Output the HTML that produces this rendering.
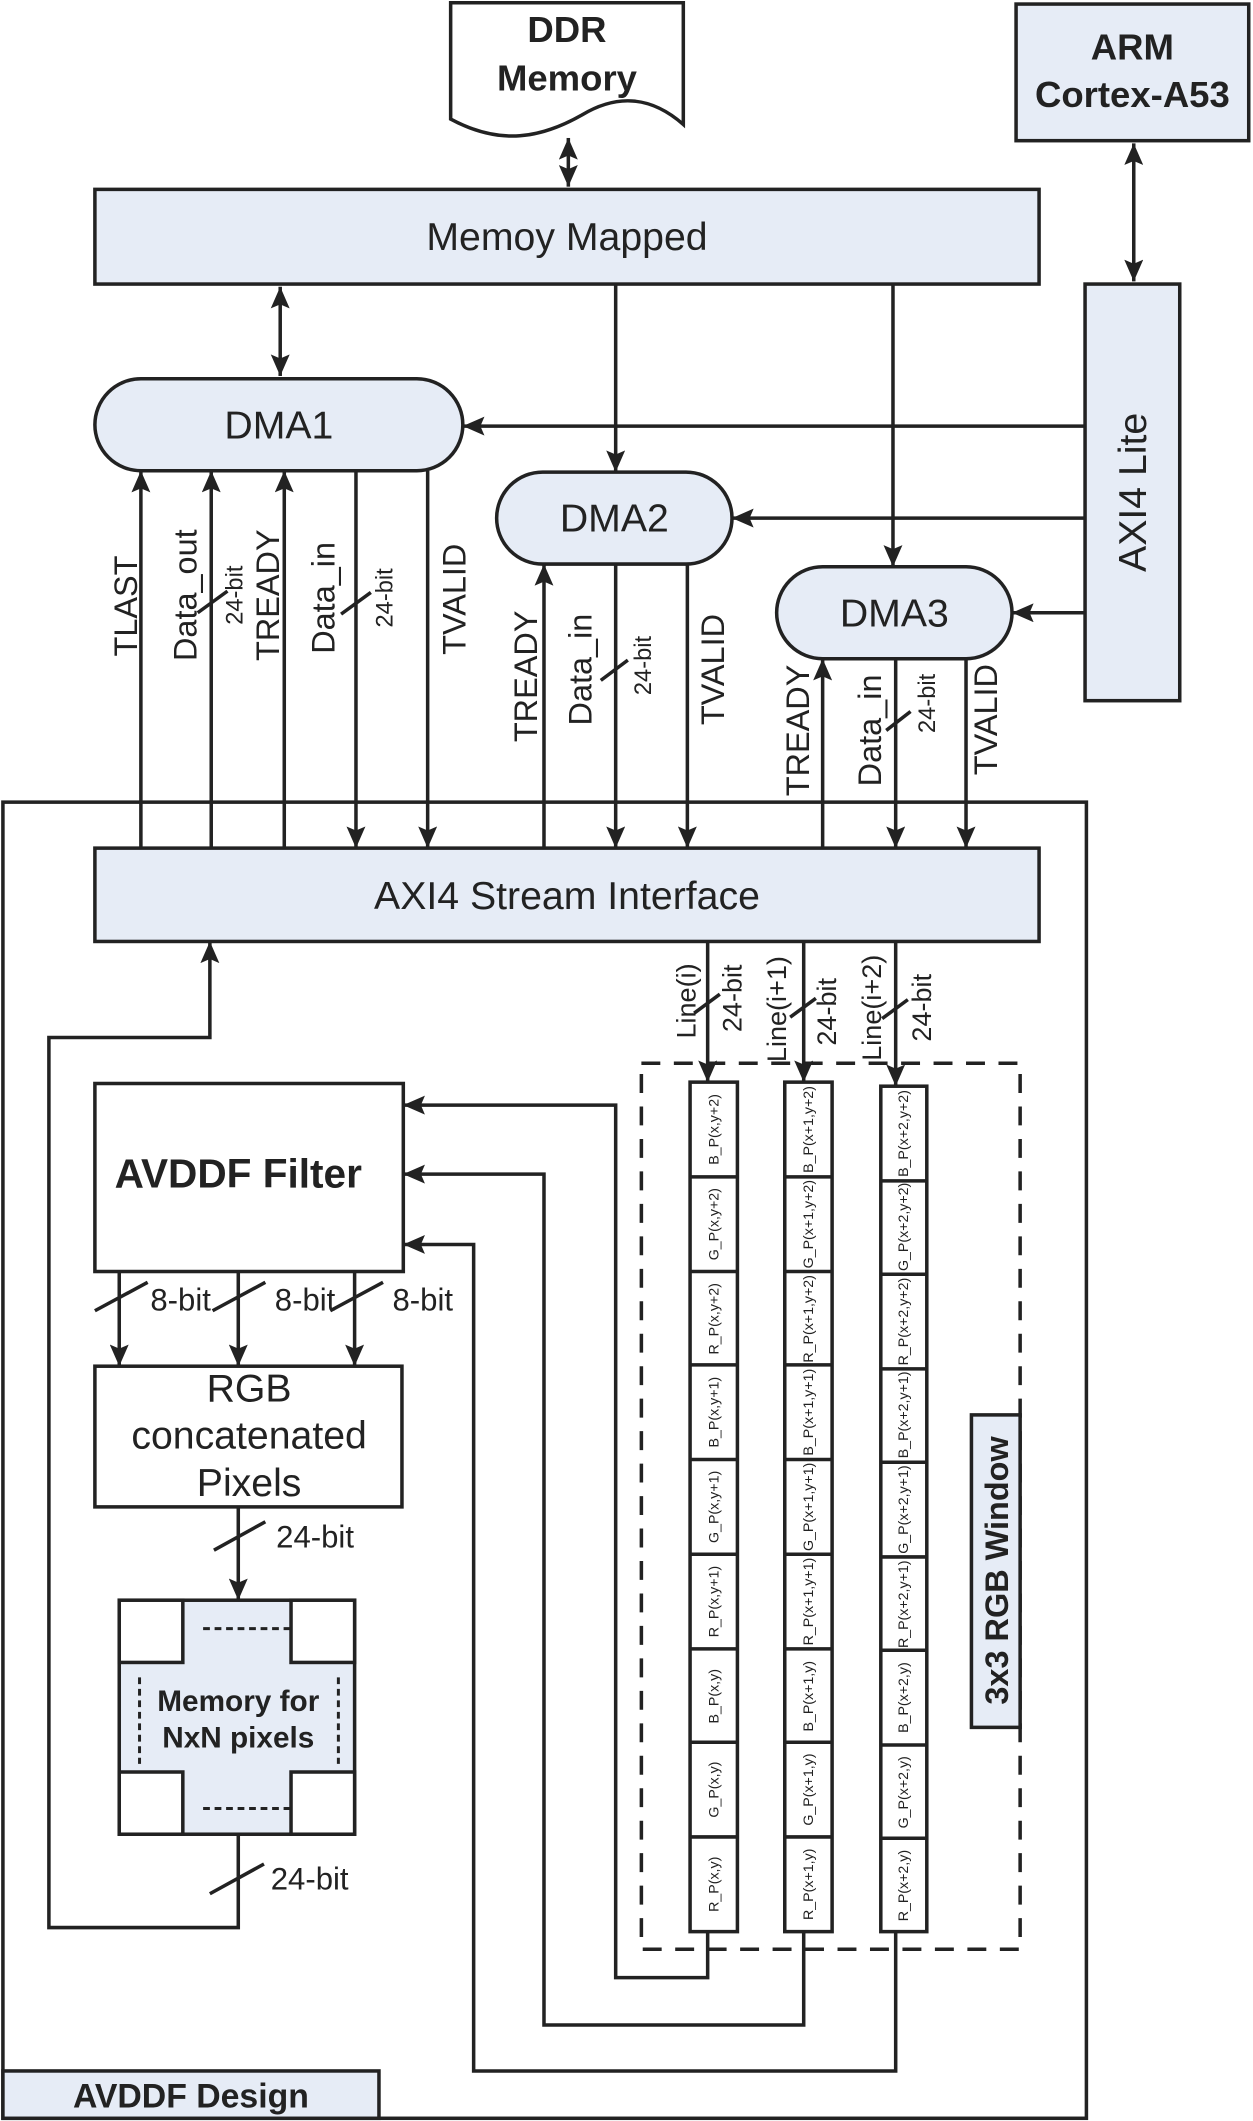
<!DOCTYPE html>
<html><head><meta charset="utf-8"><style>
html,body{margin:0;padding:0;background:#fff;}
svg{display:block;}
text{font-family:"Liberation Sans",Arial,sans-serif;fill:#222;}
</style></head><body>
<svg width="1253" height="2121" viewBox="0 0 926 1568" xmlns="http://www.w3.org/2000/svg">
<defs>
<marker id="m" viewBox="0 0 16 14" refX="16" refY="7" markerWidth="16" markerHeight="14" markerUnits="userSpaceOnUse" orient="auto-start-reverse">
<path d="M0,0 L16,7 L0,14 L3,7 Z" fill="#222"/>
</marker>
</defs>
<style>
.s{stroke:#222;stroke-width:2.6;fill:none;}
.f{stroke:#222;stroke-width:2.6;fill:#e6ecf6;}
.w{stroke:#222;stroke-width:2.6;fill:#fff;}
.ar{stroke:#222;stroke-width:2.6;fill:none;marker-end:url(#m);}
</style>

<!-- DDR memory -->
<path class="w" d="M333,2 L505,2 L505,92 C480,70 455,70 430,85 C400,102 370,108 333,88 Z"/>
<text x="419" y="31" font-size="27" font-weight="bold" text-anchor="middle">DDR</text>
<text x="419" y="67" font-size="27" font-weight="bold" text-anchor="middle">Memory</text>
<path class="s" d="M420,102 L420,138" marker-end="url(#m)" marker-start="url(#m)"/>

<!-- ARM -->
<rect class="f" x="751" y="3" width="172" height="101"/>
<text x="837" y="44" font-size="27" font-weight="bold" text-anchor="middle">ARM</text>
<text x="837" y="79" font-size="27" font-weight="bold" text-anchor="middle">Cortex-A53</text>
<path class="s" d="M838,106 L838,208" marker-end="url(#m)" marker-start="url(#m)"/>

<!-- Memory mapped -->
<rect class="f" x="70" y="140" width="698" height="70"/>
<text x="419" y="185" font-size="29" text-anchor="middle">Memoy Mapped</text>

<!-- AXI4 Lite -->
<rect class="f" x="802" y="210" width="70" height="308"/>
<text transform="translate(847,364) rotate(-90)" font-size="29" text-anchor="middle">AXI4 Lite</text>

<!-- DMA1 -->
<rect class="f" x="70" y="280" width="272" height="68" rx="34"/>
<text x="206" y="324" font-size="29" text-anchor="middle">DMA1</text>
<path class="s" d="M207,212 L207,278" marker-end="url(#m)" marker-start="url(#m)"/>
<!-- DMA2 -->
<rect class="f" x="367" y="349" width="174" height="68" rx="34"/>
<text x="454" y="393" font-size="29" text-anchor="middle">DMA2</text>
<path class="ar" d="M455,210 L455,349"/>
<!-- DMA3 -->
<rect class="f" x="574" y="419" width="174" height="68" rx="34"/>
<text x="661" y="463" font-size="29" text-anchor="middle">DMA3</text>
<path class="ar" d="M660,210 L660,419"/>

<path class="ar" d="M802,315 L342,315"/>
<path class="ar" d="M802,383 L541,383"/>
<path class="ar" d="M802,453 L748,453"/>

<!-- AVDDF Design outer -->
<rect class="s" x="2" y="593" width="801" height="973"/>
<rect class="f" x="2" y="1531" width="278" height="35"/>
<text x="141" y="1558" font-size="25" font-weight="bold" text-anchor="middle">AVDDF Design</text>

<!-- AXI4 stream -->
<rect class="f" x="70" y="627" width="698" height="69"/>
<text x="419" y="672" font-size="29" text-anchor="middle">AXI4 Stream Interface</text>

<!-- DMA1 signals -->
<path class="ar" d="M104,627 L104,348"/>
<path class="ar" d="M156,627 L156,348"/>
<path class="ar" d="M210,627 L210,348"/>
<path class="ar" d="M263,348 L263,627"/>
<path class="ar" d="M316,348 L316,627"/>
<!-- DMA2 signals -->
<path class="ar" d="M402,627 L402,417"/>
<path class="ar" d="M455,417 L455,627"/>
<path class="ar" d="M508,417 L508,627"/>
<!-- DMA3 signals -->
<path class="ar" d="M608,627 L608,487"/>
<path class="ar" d="M662,487 L662,627"/>
<path class="ar" d="M714,487 L714,627"/>

<g font-size="24">
<text transform="translate(101,448) rotate(-90)" text-anchor="middle">TLAST</text>
<text transform="translate(145,440) rotate(-90)" text-anchor="middle">Data_out</text>
<text transform="translate(206,440) rotate(-90)" text-anchor="middle">TREADY</text>
<text transform="translate(247,442) rotate(-90)" text-anchor="middle">Data_in</text>
<text transform="translate(344,443) rotate(-90)" text-anchor="middle">TVALID</text>
<text transform="translate(397,500) rotate(-90)" text-anchor="middle">TREADY</text>
<text transform="translate(437,495) rotate(-90)" text-anchor="middle">Data_in</text>
<text transform="translate(535,495) rotate(-90)" text-anchor="middle">TVALID</text>
<text transform="translate(598,540) rotate(-90)" text-anchor="middle">TREADY</text>
<text transform="translate(651,540) rotate(-90)" text-anchor="middle">Data_in</text>
<text transform="translate(737,532) rotate(-90)" text-anchor="middle">TVALID</text>
</g>
<g font-size="17.5">
<text transform="translate(179,440) rotate(-90)" text-anchor="middle">24-bit</text>
<text transform="translate(290,442) rotate(-90)" text-anchor="middle">24-bit</text>
<text transform="translate(481,492) rotate(-90)" text-anchor="middle">24-bit</text>
<text transform="translate(691,520) rotate(-90)" text-anchor="middle">24-bit</text>
</g>
<g class="s">
<path d="M146,453 L168,437"/>
<path d="M252,454 L274,438"/>
<path d="M444,503 L464,488"/>
<path d="M655,540 L673,526"/>
</g>

<!-- Lines down -->
<path class="ar" d="M523,696 L523,800"/>
<path class="ar" d="M594,696 L594,800"/>
<path class="ar" d="M662,696 L662,803"/>
<g font-size="20">
<text transform="translate(514,740) rotate(-90)" text-anchor="middle">Line(i)</text>
<text transform="translate(581,746) rotate(-90)" text-anchor="middle">Line(i+1)</text>
<text transform="translate(651,745) rotate(-90)" text-anchor="middle">Line(i+2)</text>
<text transform="translate(548,738) rotate(-90)" text-anchor="middle">24-bit</text>
<text transform="translate(618,748) rotate(-90)" text-anchor="middle">24-bit</text>
<text transform="translate(688,745) rotate(-90)" text-anchor="middle">24-bit</text>
</g>
<g class="s">
<path d="M513,749 L532,735"/>
<path d="M584,752 L603,738"/>
<path d="M652,753 L671,739"/>
</g>

<!-- dashed window -->
<rect x="474" y="786" width="280" height="655" fill="none" stroke="#222" stroke-width="2.6" stroke-dasharray="14,10"/>

<!-- columns -->
<g>
<rect class="w" x="510" y="800" width="35" height="628"/>
<rect class="w" x="580" y="800" width="35" height="628"/>
<rect class="w" x="651" y="803" width="34" height="625"/>
<g class="s">
<path d="M510,870 H545 M510,940 H545 M510,1009 H545 M510,1079 H545 M510,1149 H545 M510,1219 H545 M510,1288 H545 M510,1358 H545"/>
<path d="M580,870 H615 M580,940 H615 M580,1009 H615 M580,1079 H615 M580,1149 H615 M580,1219 H615 M580,1288 H615 M580,1358 H615"/>
<path d="M651,873 H685 M651,942 H685 M651,1012 H685 M651,1081 H685 M651,1151 H685 M651,1220 H685 M651,1290 H685 M651,1359 H685"/>
</g>
<g font-size="10.5">
<text transform="translate(531,835) rotate(-90)" text-anchor="middle">B_P(x,y+2)</text>
<text transform="translate(531,905) rotate(-90)" text-anchor="middle">G_P(x,y+2)</text>
<text transform="translate(531,975) rotate(-90)" text-anchor="middle">R_P(x,y+2)</text>
<text transform="translate(531,1044) rotate(-90)" text-anchor="middle">B_P(x,y+1)</text>
<text transform="translate(531,1114) rotate(-90)" text-anchor="middle">G_P(x,y+1)</text>
<text transform="translate(531,1184) rotate(-90)" text-anchor="middle">R_P(x,y+1)</text>
<text transform="translate(531,1254) rotate(-90)" text-anchor="middle">B_P(x,y)</text>
<text transform="translate(531,1323) rotate(-90)" text-anchor="middle">G_P(x,y)</text>
<text transform="translate(531,1393) rotate(-90)" text-anchor="middle">R_P(x,y)</text>

<text transform="translate(601,835) rotate(-90)" text-anchor="middle">B_P(x+1,y+2)</text>
<text transform="translate(601,905) rotate(-90)" text-anchor="middle">G_P(x+1,y+2)</text>
<text transform="translate(601,975) rotate(-90)" text-anchor="middle">R_P(x+1,y+2)</text>
<text transform="translate(601,1044) rotate(-90)" text-anchor="middle">B_P(x+1,y+1)</text>
<text transform="translate(601,1114) rotate(-90)" text-anchor="middle">G_P(x+1,y+1)</text>
<text transform="translate(601,1184) rotate(-90)" text-anchor="middle">R_P(x+1,y+1)</text>
<text transform="translate(601,1254) rotate(-90)" text-anchor="middle">B_P(x+1,y)</text>
<text transform="translate(601,1323) rotate(-90)" text-anchor="middle">G_P(x+1,y)</text>
<text transform="translate(601,1393) rotate(-90)" text-anchor="middle">R_P(x+1,y)</text>

<text transform="translate(671,838) rotate(-90)" text-anchor="middle">B_P(x+2,y+2)</text>
<text transform="translate(671,907) rotate(-90)" text-anchor="middle">G_P(x+2,y+2)</text>
<text transform="translate(671,977) rotate(-90)" text-anchor="middle">R_P(x+2,y+2)</text>
<text transform="translate(671,1046) rotate(-90)" text-anchor="middle">B_P(x+2,y+1)</text>
<text transform="translate(671,1116) rotate(-90)" text-anchor="middle">G_P(x+2,y+1)</text>
<text transform="translate(671,1186) rotate(-90)" text-anchor="middle">R_P(x+2,y+1)</text>
<text transform="translate(671,1255) rotate(-90)" text-anchor="middle">B_P(x+2,y)</text>
<text transform="translate(671,1325) rotate(-90)" text-anchor="middle">G_P(x+2,y)</text>
<text transform="translate(671,1394) rotate(-90)" text-anchor="middle">R_P(x+2,y)</text>
</g>
</g>

<!-- 3x3 window label -->
<rect class="f" x="718" y="1046" width="36" height="231"/>
<text transform="translate(745,1161) rotate(-90)" font-size="24" font-weight="bold" text-anchor="middle">3x3 RGB Window</text>

<!-- feedback loops -->
<path class="ar" d="M523,1428 L523,1462 L455,1462 L455,817 L298,817"/>
<path class="ar" d="M594,1428 L594,1497 L402,1497 L402,868 L298,868"/>
<path class="ar" d="M662,1428 L662,1531 L350,1531 L350,920 L298,920"/>

<!-- AVDDF Filter -->
<rect class="w" x="70" y="801" width="228" height="139"/>
<text x="176" y="878" font-size="30" font-weight="bold" text-anchor="middle">AVDDF Filter</text>

<path class="ar" d="M88,940 L88,1010"/>
<path class="ar" d="M176,940 L176,1010"/>
<path class="ar" d="M262,940 L262,1010"/>
<g class="s">
<path d="M70,969 L109,948"/>
<path d="M157,969 L196,948"/>
<path d="M244,969 L283,948"/>
</g>
<g font-size="23">
<text x="111" y="969">8-bit</text>
<text x="203" y="969">8-bit</text>
<text x="290" y="969">8-bit</text>
</g>

<!-- RGB box -->
<rect class="w" x="70" y="1010" width="227" height="104"/>
<text x="184" y="1036" font-size="29" text-anchor="middle">RGB</text>
<text x="184" y="1071" font-size="29" text-anchor="middle">concatenated</text>
<text x="184" y="1106" font-size="29" text-anchor="middle">Pixels</text>

<path class="ar" d="M176,1114 L176,1183"/>
<path class="s" d="M158,1146 L196,1125"/>
<text x="204" y="1144" font-size="23">24-bit</text>

<!-- Memory box -->
<rect class="f" x="88" y="1183" width="174" height="173"/>
<g class="w">
<rect x="88" y="1183" width="47" height="46"/>
<rect x="215" y="1183" width="47" height="46"/>
<rect x="88" y="1310" width="47" height="46"/>
<rect x="215" y="1310" width="47" height="46"/>
</g>
<g stroke="#222" stroke-width="2.2" stroke-dasharray="5,3.5" fill="none">
<path d="M150,1204 L214,1204"/>
<path d="M150,1337 L214,1337"/>
<path d="M103,1240 L103,1304"/>
<path d="M250,1240 L250,1304"/>
</g>
<text x="176" y="1265" font-size="22" font-weight="bold" text-anchor="middle">Memory for</text>
<text x="176" y="1292" font-size="22" font-weight="bold" text-anchor="middle">NxN pixels</text>

<!-- output loop -->
<path class="ar" d="M176,1356 L176,1425 L36,1425 L36,767 L155,767 L155,696"/>
<path class="s" d="M155,1400 L195,1378"/>
<text x="200" y="1397" font-size="23">24-bit</text>
</svg>
</body></html>
